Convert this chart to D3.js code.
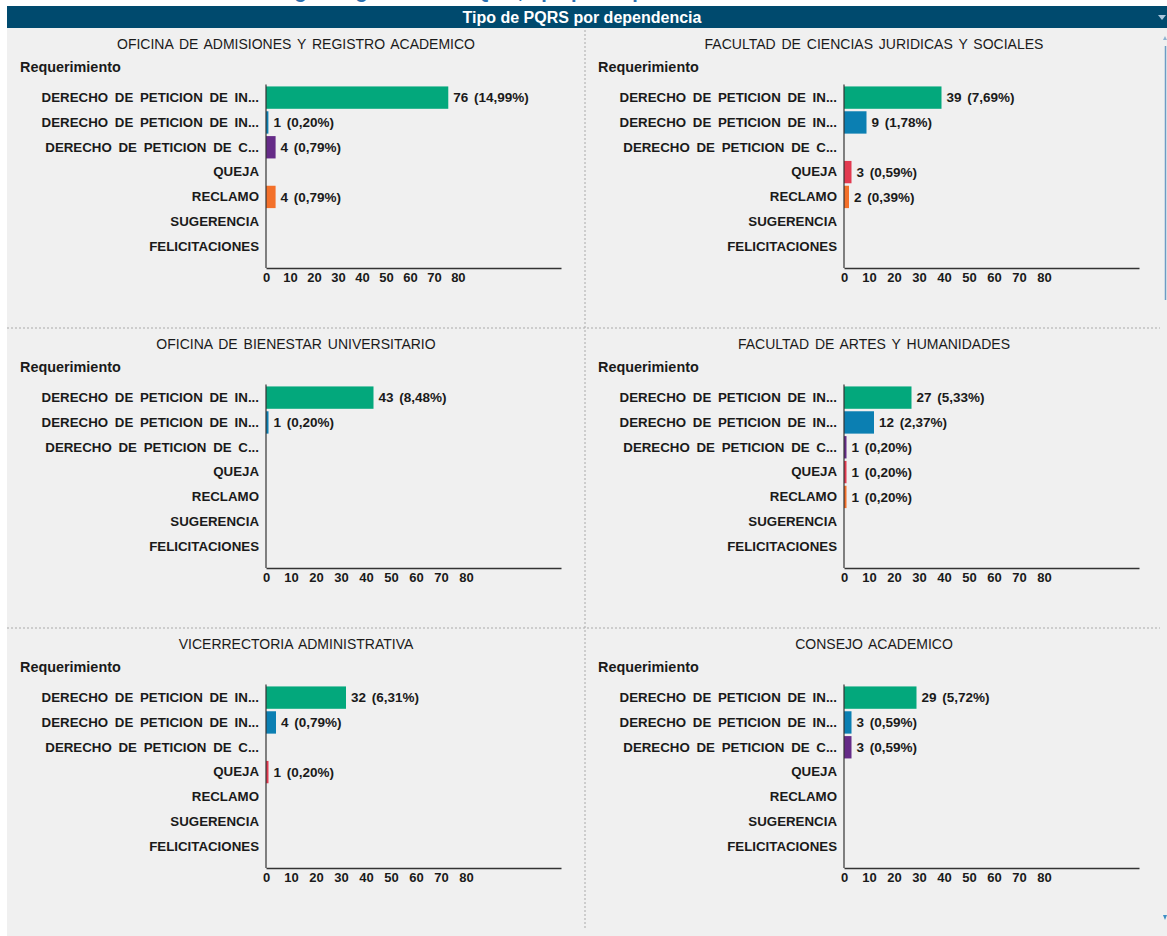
<!DOCTYPE html>
<html>
<head>
<meta charset="utf-8">
<script src="https://cdn.jsdelivr.net/npm/d3@7"></script>
<style>
  body { margin: 0; background: #fff; }
  svg text { font-family: "Liberation Sans", Arial, sans-serif; fill: #1a1a1a; }
</style>
</head>
<body>
<div id="chart"></div>
<script>
// ---- data ----
var categories = ["DERECHO DE PETICION DE IN...", "DERECHO DE PETICION DE IN...",
  "DERECHO DE PETICION DE C...", "QUEJA", "RECLAMO", "SUGERENCIA", "FELICITACIONES"];
var categoryKeys = ["dpIG", "dpIP", "dpC", "queja", "reclamo", "sugerencia", "felicitaciones"];
var dependencias = ["OFICINA DE ADMISIONES Y REGISTRO ACADEMICO", "FACULTAD DE CIENCIAS JURIDICAS Y SOCIALES",
  "OFICINA DE BIENESTAR UNIVERSITARIO", "FACULTAD DE ARTES Y HUMANIDADES",
  "VICERRECTORIA ADMINISTRATIVA", "CONSEJO ACADEMICO"];
var admisiones = [76, 1, 4, 0, 4, 0, 0];
var juridicas  = [39, 9, 0, 3, 2, 0, 0];
var bienestar  = [43, 1, 0, 0, 0, 0, 0];
var artes      = [27, 12, 1, 1, 1, 0, 0];
var vicerrectoria = [32, 4, 0, 1, 0, 0, 0];
var consejo    = [29, 3, 3, 0, 0, 0, 0];
var totalPQRS = 507;
var tickLabels = [0, 10, 20, 30, 40, 50, 60, 70, 80];

var panelValues = [admisiones, juridicas, bienestar, artes, vicerrectoria, consejo];
var colors = ["#03a87c", "#0b7fb2", "#652b87", "#e23a50", "#f3702a", "#9e9e9e", "#9e9e9e"];
// first panel's axis is slightly more compressed in the reference
var axisMax = [123, 118, 118, 118, 118, 118];

var W = 1167, H = 936;
var svg = d3.select("#chart").append("svg").attr("width", W).attr("height", H);

// clipped page title above the header (only descenders show)
svg.append("text")
  .attr("x", 500).attr("y", -2)
  .attr("text-anchor", "middle")
  .style("font-size", "20px").style("font-weight", "bold")
  .style("fill", "#2a6fb0")
  .text("Registro general de PQRS, tipo por dependencia");

// grey panel area
svg.append("rect").attr("x", 7).attr("y", 28).attr("width", W - 7).attr("height", H - 28)
  .attr("fill", "#f0f0f0");

// header bar
svg.append("rect").attr("x", 7).attr("y", 6).attr("width", W - 7).attr("height", 22)
  .attr("fill", "#004a6e");
svg.append("text").attr("x", 582).attr("y", 22.5)
  .attr("text-anchor", "middle")
  .style("font-size", "16px").style("font-weight", "bold").style("fill", "#fff")
  .text("Tipo de PQRS por dependencia");
svg.append("path").attr("d", "M1158,15 L1166,15 L1162,20 Z").attr("fill", "#a9c6dc");

// dashed separators
svg.append("line").attr("x1", 585).attr("x2", 585).attr("y1", 30).attr("y2", 929)
  .attr("stroke", "#aaa").attr("stroke-dasharray", "2,2");
[328, 628].forEach(function(y) {
  svg.append("line").attr("x1", 7).attr("x2", 1160).attr("y1", y).attr("y2", y)
    .attr("stroke", "#aaa").attr("stroke-dasharray", "2,2");
});

// scroll bar hints
svg.append("line").attr("x1", 1165.5).attr("x2", 1165.5).attr("y1", 46).attr("y2", 300)
  .attr("stroke", "#6d9cc4").attr("stroke-width", 1.5);
svg.append("path").attr("d", "M1163,40 L1167,40 L1165,36 Z").attr("fill", "#8fb2d0");
svg.append("path").attr("d", "M1163,915 L1167,915 L1165,920 Z").attr("fill", "#3e8fc4");

function fmtPct(v) {
  return v + " (" + d3.format(".2f")(v / totalPQRS * 100).replace(".", ",") + "%)";
}

dependencias.forEach(function(dep, p) {
  var ox = (p % 2) * 578, oy = Math.floor(p / 2) * 300;
  var g = svg.append("g").attr("transform", "translate(" + ox + "," + oy + ")");
  var axisX = 266, axisW = 295, axisY = 268;

  var rows = categoryKeys.map(function(k, i) {
    return {key: k, label: categories[i], value: panelValues[p][i], color: colors[i]};
  });

  var x = d3.scaleLinear().domain([0, axisMax[p]]).range([axisX, axisX + axisW]);
  var y = d3.scaleBand().domain(categoryKeys).range([85.2, 259]).paddingInner(0.1).paddingOuter(0.05);

  g.append("text").attr("x", 296).attr("y", 49)
    .attr("text-anchor", "middle")
    .style("font-size", "14px").style("word-spacing", "2px")
    .text(dep);
  g.append("text").attr("x", 20).attr("y", 72)
    .style("font-size", "14.4px").style("font-weight", "bold")
    .text("Requerimiento");

  g.selectAll("rect.bar")
    .data(rows)
    .enter()
    .append("rect")
      .attr("class", "bar")
      .attr("x", x(0))
      .attr("y", function(d) { return y(d.key); })
      .attr("width", function(d) { return x(d.value) - x(0); })
      .attr("height", y.bandwidth())
      .attr("fill", function(d) { return d.color; });

  g.selectAll("text.val")
    .data(rows.filter(function(d) { return d.value > 0; }))
    .enter()
    .append("text")
      .attr("class", "val")
      .attr("x", function(d) { return x(d.value) + 5; })
      .attr("y", function(d) { return y(d.key) + y.bandwidth() / 2; })
      .attr("dy", "0.35em")
      .style("font-size", "13.5px").style("font-weight", "bold").style("word-spacing", "2px")
      .text(function(d) { return fmtPct(d.value); });

  // category labels
  var yAxis = d3.axisLeft(y).tickSize(0).tickPadding(7)
    .tickFormat(function(k) { return categories[categoryKeys.indexOf(k)]; });
  var ya = g.append("g").attr("transform", "translate(" + axisX + ",0)").call(yAxis);
  ya.select(".domain").remove();
  ya.selectAll("text").style("font-size", "13.3px").style("font-weight", "bold")
    .style("word-spacing", "3px")
    .style("font-family", null).attr("fill", null);

  g.append("line").attr("x1", axisX).attr("x2", axisX).attr("y1", 84.6).attr("y2", axisY)
    .attr("stroke", "#333").attr("stroke-width", 1.2);

  var xAxis = d3.axisBottom(x).tickValues(tickLabels).tickSize(0).tickPadding(5);
  var xa = g.append("g").attr("transform", "translate(0," + axisY + ")").call(xAxis);
  xa.select(".domain").attr("stroke", "#333").attr("stroke-width", 1.5);
  xa.selectAll("text").style("font-size", "13px").style("font-weight", "bold")
    .style("font-family", null).attr("fill", null);
});
</script>
</body>
</html>
